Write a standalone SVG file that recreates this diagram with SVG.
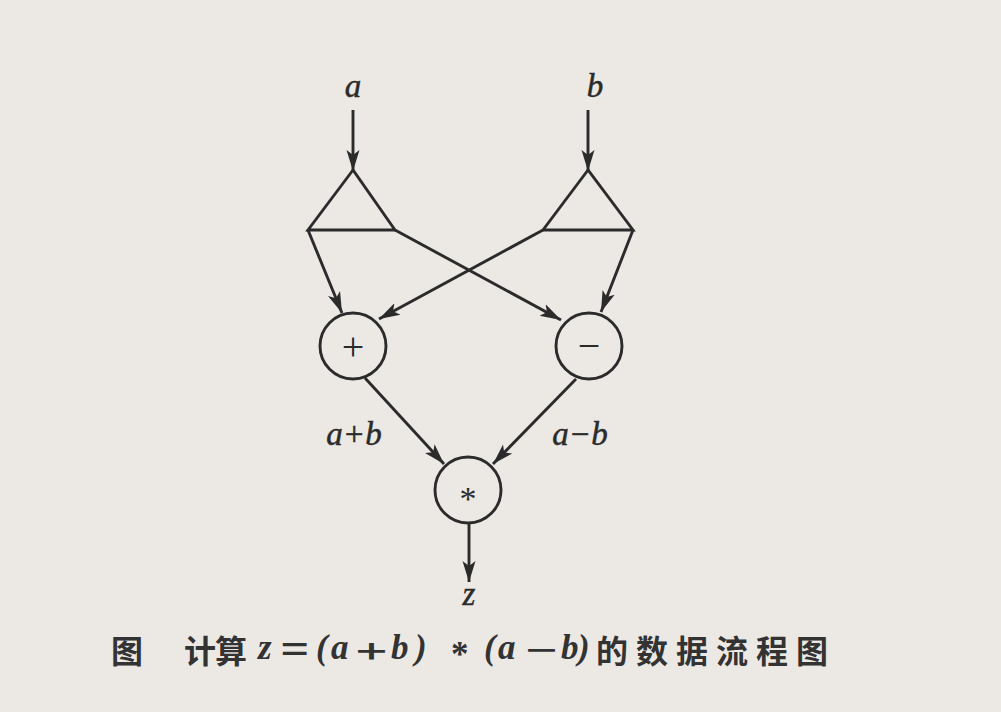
<svg xmlns="http://www.w3.org/2000/svg" width="1001" height="712" viewBox="0 0 1001 712">
  <defs>
    <marker id="arr" markerUnits="userSpaceOnUse" markerWidth="24" markerHeight="16" viewBox="0 0 24 16" refX="21" refY="8" orient="auto">
      <path d="M0,1.5 L21,8 L0,14.5 L5,8 Z" fill="#2b2b2b"/>
    </marker>
    <style>
      .ar { stroke:#2b2b2b; stroke-width:2.9; fill:none; marker-end:url(#arr); }
      .nd { stroke:#2b2b2b; stroke-width:2.9; fill:none; stroke-linejoin:miter; }
      .lb { font-family:"Liberation Serif", serif; font-style:italic; font-size:33px; fill:#2b2b2b; stroke:#2b2b2b; stroke-width:0.5; text-anchor:middle; }
      .op { font-family:"Liberation Serif", serif; font-size:40px; fill:#2b2b2b; text-anchor:middle; }
      .cj { font-family:"Noto Sans CJK SC", sans-serif; font-weight:700; font-size:32px; fill:#333; }
      .mi { font-family:"Liberation Serif", serif; font-style:italic; font-weight:700; font-size:35px; fill:#333; }
    </style>
  </defs>
  <rect width="1001" height="712" fill="#ece9e5"/>

  <g id="connectors">
    <line class="ar" x1="353" y1="110" x2="353" y2="171"/>
    <line class="ar" x1="588" y1="110" x2="588" y2="171"/>
    <line class="ar" x1="308" y1="230" x2="342" y2="313"/>
    <line class="ar" x1="395" y1="230" x2="561" y2="320"/>
    <line class="ar" x1="543" y1="230" x2="379" y2="319"/>
    <line class="ar" x1="633" y1="230" x2="601" y2="312"/>
    <line class="ar" x1="365" y1="378" x2="444" y2="464"/>
    <line class="ar" x1="576" y1="379" x2="493" y2="464"/>
    <line class="ar" x1="469" y1="523" x2="469" y2="582"/>
  </g>

  <g id="input-a">
    <text class="lb" x="353" y="97">a</text>
  </g>
  <g id="input-b">
    <text class="lb" x="595" y="97">b</text>
  </g>
  <g id="split-a">
    <polygon class="nd" points="353,170 308,230 395,230"/>
  </g>
  <g id="split-b">
    <polygon class="nd" points="588,170 543,230 633,230"/>
  </g>
  <g id="node-plus">
    <circle class="nd" cx="353" cy="346" r="33"/>
    <text class="op" x="353" y="360">+</text>
  </g>
  <g id="node-minus">
    <circle class="nd" cx="589" cy="346" r="33"/>
    <text class="op" x="589" y="359">−</text>
  </g>
  <g id="node-mul">
    <circle class="nd" cx="468" cy="490" r="33"/>
    <text class="op" x="468" y="510" style="font-size:34px">*</text>
  </g>
  <g id="labels">
    <text class="lb" x="354" y="445">a+b</text>
    <text class="lb" x="580" y="445">a−b</text>
    <text class="lb" x="469" y="605">z</text>
  </g>

  <g id="caption">
    <text class="cj" x="111" y="663">图</text>
    <text class="cj" x="184" y="663">计</text>
    <text class="cj" x="215" y="663">算</text>
    <text class="mi" x="258" y="659">z</text>
    <text class="cj" transform="translate(281,661) scale(1.45,1)" x="0" y="0">=</text>
    <text class="mi" x="316" y="659">(</text>
    <text class="mi" x="331" y="659">a</text>
    <text class="cj" transform="translate(356,663) scale(1.7,1)" x="0" y="0" style="font-weight:500">+</text>
    <text class="mi" x="391" y="659">b</text>
    <text class="mi" x="415" y="659">)</text>
    <text class="mi" x="451" y="666" style="font-style:normal">*</text>
    <text class="mi" x="484" y="659">(</text>
    <text class="mi" x="498" y="659">a</text>
    <text class="cj" transform="translate(526,662) scale(1.7,1)" x="0" y="0" style="font-weight:500">−</text>
    <text class="mi" x="561" y="659">b</text>
    <text class="mi" x="578" y="659">)</text>
    <text class="cj" x="596 636 676 716 756 796" y="663">的数据流程图</text>
  </g>
</svg>
